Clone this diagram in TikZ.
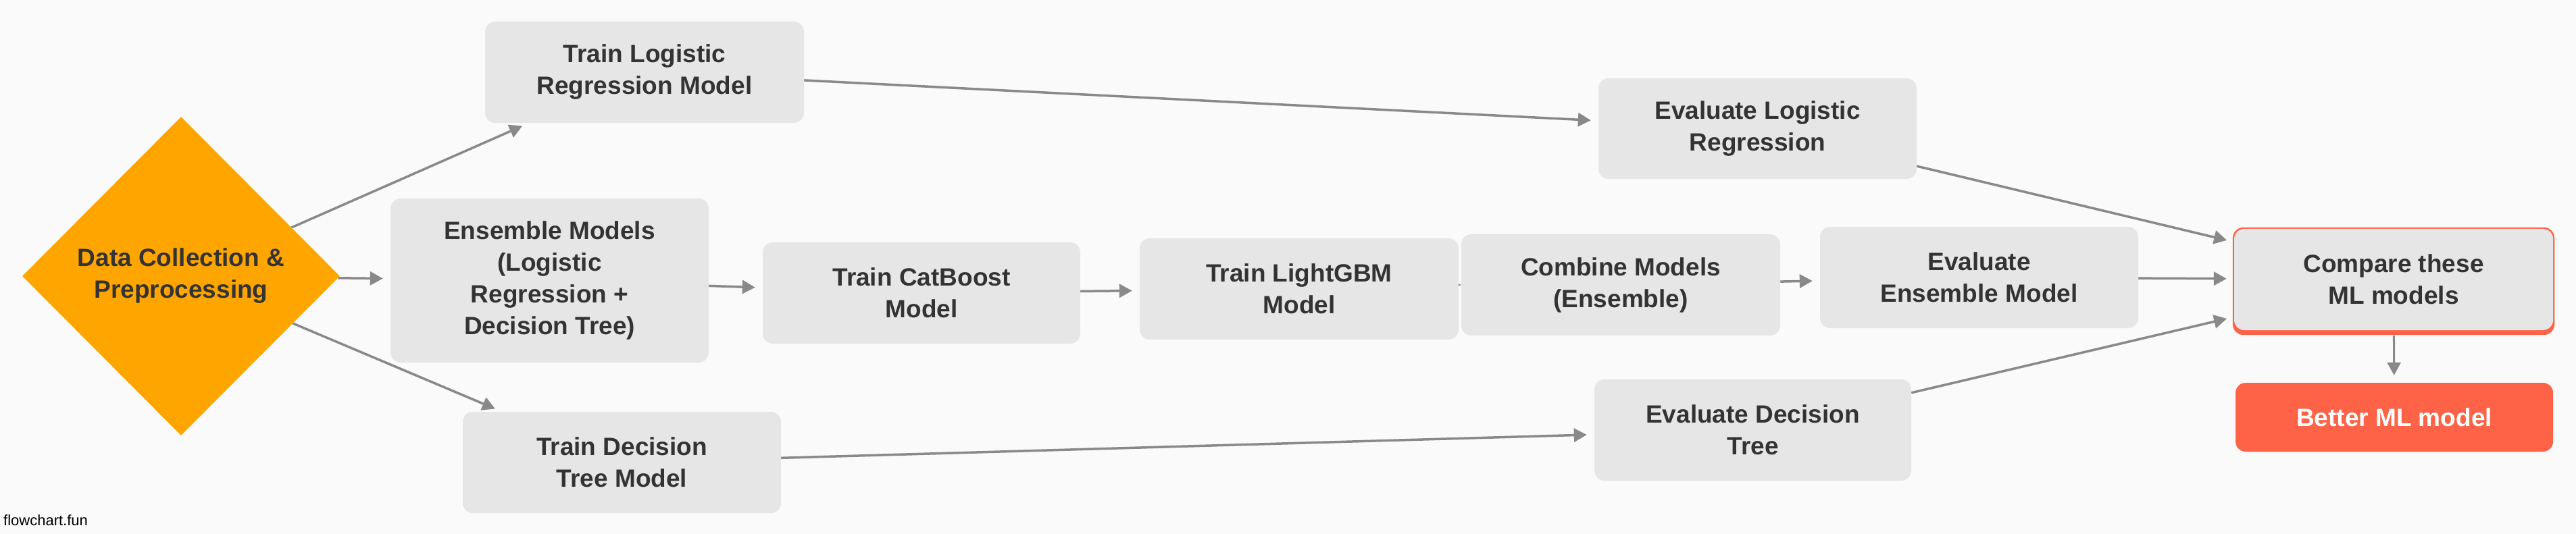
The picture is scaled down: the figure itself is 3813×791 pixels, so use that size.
\documentclass[tikz,border=0pt]{standalone}
\usepackage{fontspec}
\setmainfont{Liberation Sans}
\usetikzlibrary{shapes.geometric,arrows.meta}
\pgfdeclarelayer{bgl}
\pgfdeclarelayer{edgel}
\pgfsetlayers{bgl,edgel,main}
\definecolor{bgcol}{HTML}{FAFAFA}
\definecolor{boxcol}{HTML}{E6E6E6}
\definecolor{txtcol}{HTML}{333333}
\definecolor{arrcol}{HTML}{898989}
\definecolor{orangecol}{HTML}{FFA500}
\definecolor{redcol}{HTML}{FF6347}
\tikzset{
  box/.style={rectangle, rounded corners=15pt, fill=boxcol, inner sep=0pt,
    align=center, text=txtcol, font=\fontsize{37}{47}\selectfont\bfseries},
  dia/.style={diamond, fill=orangecol, inner sep=0pt, align=center, text=txtcol,
    minimum width=470pt, minimum height=472pt, font=\fontsize{37}{47}\selectfont\bfseries},
  conn/.style={draw=arrcol, line width=3.5pt, -{Triangle[length=19pt,width=20pt]}, shorten >=11pt},
}
\begin{document}
\begin{tikzpicture}[x=1pt,y=-1pt]
\begin{pgfonlayer}{bgl}
\fill[bgcol] (0,0) rectangle (3813,791);
\end{pgfonlayer}
\useasboundingbox (0,0) rectangle (3813,791);

\node[dia] (D) at (268,409) {Data Collection \&\\Preprocessing};
\node[box, minimum width=472pt, minimum height=150pt] (TLR) at (954,107) {Train Logistic\\Regression Model};
\node[box, minimum width=471pt, minimum height=243pt] (ENS) at (813.5,415.5) {Ensemble Models\\(Logistic\\Regression +\\Decision Tree)};
\node[box, minimum width=471pt, minimum height=150pt] (TDT) at (920.5,685) {Train Decision\\Tree Model};
\node[box, minimum width=470pt, minimum height=150pt] (CAT) at (1364,434) {Train CatBoost\\Model};
\node[box, minimum width=472pt, minimum height=150pt] (LGB) at (1923,428) {Train LightGBM\\Model};
\node[box, minimum width=472pt, minimum height=150pt] (CMB) at (2399,422) {Combine Models\\(Ensemble)};
\node[box, minimum width=471pt, minimum height=149pt] (ELR) at (2601.5,190.5) {Evaluate Logistic\\Regression};
\node[box, minimum width=471pt, minimum height=150pt] (EEN) at (2929.5,411) {Evaluate\\Ensemble Model};
\node[box, minimum width=469pt, minimum height=150pt] (EDT) at (2594.5,637) {Evaluate Decision\\Tree};
\node[box, minimum width=472pt, minimum height=150pt] (CMP) at (3543,414) {Compare these\\ML models};
\node[box, fill=redcol, text=white, minimum width=470pt, minimum height=102pt] (BET) at (3544,618) {Better ML model};
\node[anchor=base west, inner sep=0pt, text=black, font=\fontsize{22}{26}\selectfont] (WM) at (5,778) {flowchart.fun};

\begin{pgfonlayer}{edgel}
\fill[redcol, rounded corners=16pt] ([xshift=-2pt,yshift=2pt]CMP.north west) rectangle ([xshift=2pt,yshift=-7pt]CMP.south east);
\draw[conn] (D) -- (TLR);
\draw[conn] (D) -- (ENS);
\draw[conn] (D) -- (TDT);
\draw[conn] (TLR) -- (ELR);
\draw[conn] (TDT) -- (EDT);
\draw[conn] (ENS) -- (CAT);
\draw[conn] (CAT) -- (LGB);
\draw[conn, shorten >=0pt] (LGB.center) -- (CMB.west);
\draw[conn] (CMB) -- (EEN);
\draw[conn] (ELR) -- (CMP);
\draw[conn] (EEN) -- (CMP);
\draw[conn] (EDT) -- (CMP);
\draw[conn, line width=3pt, shorten <=8pt] (CMP) -- (BET);
\end{pgfonlayer}
\end{tikzpicture}
\end{document}
